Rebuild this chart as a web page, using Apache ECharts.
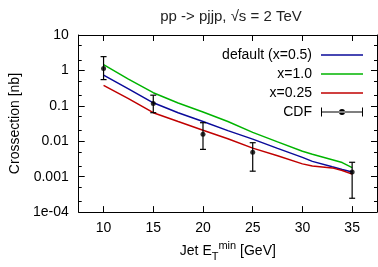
<!DOCTYPE html>
<html>
<head>
<meta charset="utf-8">
<script src="https://cdn.jsdelivr.net/npm/echarts@6/dist/echarts.min.js"></script>
<style>
  html, body { margin: 0; padding: 0; background: #fff; }
  #chart { width: 378px; height: 267px; }
</style>
</head>
<body>
<div id="chart"></div>
<script>
// Courbes théoriques (Jet ET min en GeV -> section efficace en nb)
const curveX = [10, 12.5, 15, 17.5, 20, 22.5, 25, 27.5, 30, 31, 33, 34, 35];
const defaultX05 = [0.74, 0.30, 0.122, 0.064, 0.036, 0.020, 0.0115, 0.0063, 0.0035, 0.0027, 0.0019, 0.0016, 0.00135];
const x10 = [1.45, 0.57, 0.235, 0.12, 0.067, 0.036, 0.0178, 0.0096, 0.0052, 0.0043, 0.0030, 0.0025, 0.0018];
const x025 = [0.38, 0.16, 0.064, 0.036, 0.0205, 0.0118, 0.0064, 0.0039, 0.0023, 0.0020, 0.00177, 0.0015, 0.00118];

// Points CDF avec barres d'erreur
const cdfX = [10, 15, 20, 25, 35];
const cdfY = [1.13, 0.117, 0.0158, 0.0049, 0.00135];
const cdfLow = [0.55, 0.064, 0.0059, 0.00143, 0.000246];
const cdfHigh = [2.45, 0.2, 0.0334, 0.0091, 0.00255];

const xTicks = [10, 15, 20, 25, 30, 35];
const yTicks = [0.0001, 0.001, 0.01, 0.1, 1, 10];
const yTickLabels = ["1e-04", "0.001", "0.01", "0.1", "1", "10"];
const yMinorTicks = [2e-4, 5e-4, 2e-3, 5e-3, 2e-2, 5e-2, 0.2, 0.5, 2, 5];

const FONT = "Liberation Sans";
const COLORS = { blue: "#0a0a9a", green: "#00b400", red: "#c00000" };
const LINE_ICON = "path://M0,3.8h42v1.5h-42z";

const pairs = (xs, ys) => xs.map((x, i) => [x, ys[i]]);

const chart = echarts.init(document.getElementById("chart"), null, { renderer: "canvas" });

function xAxisBase(position) {
  return {
    type: "value",
    position,
    min: 7.5,
    max: 37.5,
    axisLine: { show: true, onZero: false, lineStyle: { color: "#000", width: 1 } },
    axisTick: { show: true, inside: true, length: 6, customValues: xTicks, lineStyle: { color: "#000" } },
    splitLine: { show: false },
  };
}

function yAxisBase(position) {
  return {
    type: "log",
    logBase: 10,
    position,
    min: 0.0001,
    max: 10,
    axisLine: { show: true, onZero: false, lineStyle: { color: "#000", width: 1 } },
    axisTick: { show: true, inside: true, length: 6, customValues: yTicks, lineStyle: { color: "#000" } },
    splitLine: { show: false },
  };
}

function minorAxis(position) {
  return {
    type: "log",
    logBase: 10,
    position,
    min: 0.0001,
    max: 10,
    axisLine: { show: false },
    axisTick: { show: true, inside: true, length: 3, customValues: yMinorTicks, lineStyle: { color: "#000" } },
    axisLabel: { show: false },
    splitLine: { show: false },
  };
}

const lineSeries = (name, data, color) => ({
  name,
  type: "line",
  data: pairs(curveX, data),
  symbol: "none",
  lineStyle: { color, width: 1.5 },
  itemStyle: { color },
  z: 2,
});

chart.setOption({
  animation: false,
  title: {
    text: "pp -> pjjp, \u221As = 2 TeV",
    left: 226,
    textAlign: "center",
    top: 4,
    textStyle: { fontFamily: FONT, fontSize: 15, fontWeight: "normal", color: "#222" },
  },
  grid: { left: 73, right: 1, top: 35, bottom: 40 },
  legend: {
    orient: "vertical",
    right: 10,
    top: 43,
    align: "right",
    itemWidth: 42,
    itemHeight: 9,
    itemGap: 5,
    textStyle: { fontFamily: FONT, fontSize: 14, color: "#000", padding: [0, 4, 0, 0] },
    data: [
      { name: "default (x=0.5)", icon: LINE_ICON },
      { name: "x=1.0", icon: LINE_ICON },
      { name: "x=0.25", icon: LINE_ICON },
      {
        name: "CDF",
        icon: "path://M0,0h1v9h-1z M41,0h1v9h-1z M0,4h42v1h-42z M18,4.5a3,3 0 1 0 6,0a3,3 0 1 0 -6,0z",
        itemStyle: { color: "#000" },
      },
    ],
  },
  xAxis: [
    {
      ...xAxisBase("bottom"),
      name: "{a|Jet E}{sub|T}{sup|min}{a| [GeV]}",
      nameLocation: "middle",
      nameGap: 24,
      nameTextStyle: {
        fontFamily: FONT,
        rich: {
          a: { fontFamily: FONT, fontSize: 14, color: "#000", lineHeight: 22 },
          sub: { fontFamily: FONT, fontSize: 11, color: "#000", verticalAlign: "bottom", lineHeight: 12 },
          sup: { fontFamily: FONT, fontSize: 11, color: "#000", verticalAlign: "top", lineHeight: 12 },
        },
      },
      axisLabel: { customValues: xTicks, margin: 9, fontFamily: FONT, fontSize: 14, color: "#000" },
    },
    { ...xAxisBase("top"), axisLabel: { show: false } },
  ],
  yAxis: [
    {
      ...yAxisBase("left"),
      name: "Crossection [nb]",
      nameLocation: "middle",
      nameGap: 52,
      nameTextStyle: { fontFamily: FONT, fontSize: 14, color: "#000" },
      axisLabel: {
        customValues: yTicks,
        margin: 10,
        fontFamily: FONT,
        fontSize: 14,
        color: "#000",
        formatter: (v) => {
          const i = yTicks.findIndex((t) => Math.abs(Math.log10(t) - Math.log10(v)) < 1e-6);
          return i >= 0 ? yTickLabels[i] : "";
        },
      },
    },
    { ...yAxisBase("right"), axisLabel: { show: false } },
    minorAxis("left"),
    minorAxis("right"),
  ],
  series: [
    lineSeries("default (x=0.5)", defaultX05, COLORS.blue),
    lineSeries("x=1.0", x10, COLORS.green),
    lineSeries("x=0.25", x025, COLORS.red),
    {
      name: "CDF",
      type: "custom",
      data: cdfX.map((x, i) => [x, cdfLow[i], cdfHigh[i]]),
      itemStyle: { color: "#000" },
      z: 3,
      renderItem: (params, api) => {
        const low = api.coord([api.value(0), api.value(1)]);
        const high = api.coord([api.value(0), api.value(2)]);
        const cap = 3;
        const style = { stroke: "#000", lineWidth: 1.2 };
        return {
          type: "group",
          children: [
            { type: "line", shape: { x1: low[0], y1: low[1], x2: high[0], y2: high[1] }, style },
            { type: "line", shape: { x1: low[0] - cap, y1: low[1], x2: low[0] + cap, y2: low[1] }, style },
            { type: "line", shape: { x1: high[0] - cap, y1: high[1], x2: high[0] + cap, y2: high[1] }, style },
          ],
        };
      },
    },
    {
      name: "CDF",
      type: "scatter",
      data: pairs(cdfX, cdfY),
      symbol: "circle",
      symbolSize: 5,
      itemStyle: { color: "#000" },
      z: 4,
    },
  ],
});
</script>
</body>
</html>
